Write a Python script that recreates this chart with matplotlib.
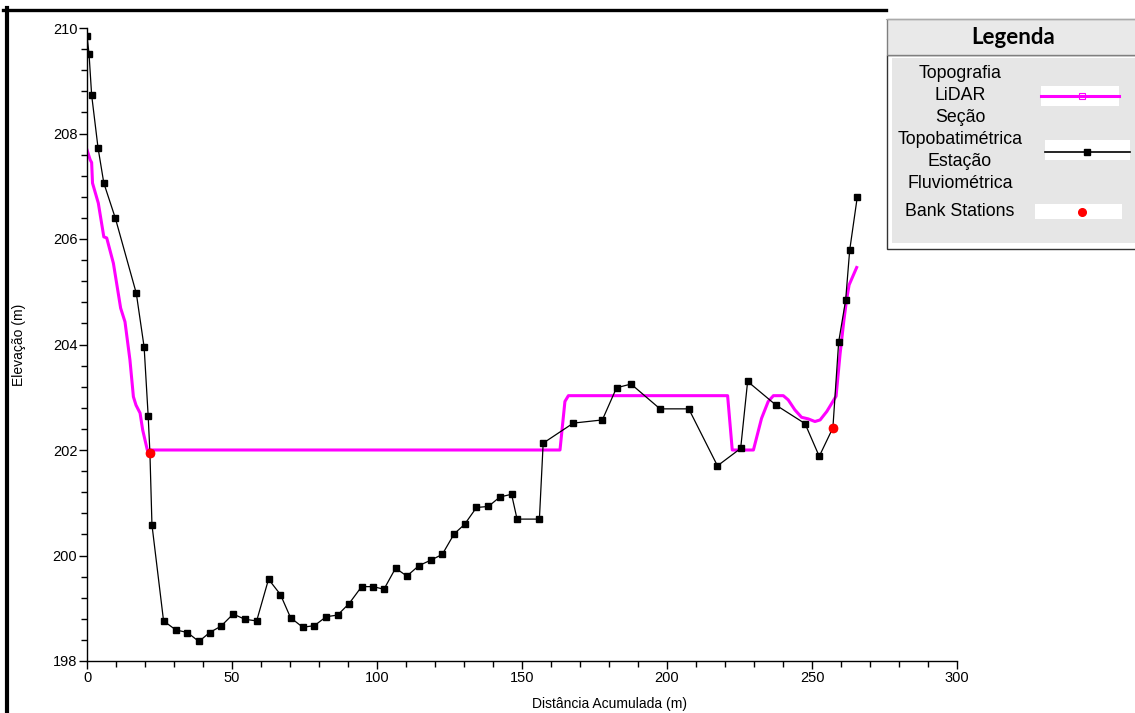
import matplotlib

matplotlib.use("Agg")
import matplotlib.pyplot as plt
from matplotlib.lines import Line2D
from matplotlib.patches import Rectangle
from matplotlib.ticker import MultipleLocator

plt.rcParams["font.family"] = ["Liberation Sans", "DejaVu Sans"]

# surveyed cross-section (distance m, elevation m)
secao_x = [0.0, 0.7, 1.6, 3.8, 5.8, 9.8, 17.0, 19.7, 21.1, 21.7, 22.4, 26.4,
           30.6, 34.6, 38.6, 42.3, 46.2, 50.4, 54.5, 58.5, 62.6, 66.7, 70.2,
           74.4, 78.4, 82.5, 86.4, 90.4, 94.7, 98.7, 102.4, 106.4, 110.3,
           114.5, 118.5, 122.5, 126.6, 130.2, 134.3, 138.4, 142.4, 146.4,
           148.3, 156.0, 157.3, 167.7, 177.7, 182.6, 187.6, 197.6, 207.5,
           217.4, 225.4, 227.8, 237.6, 247.6, 252.5, 257.2, 259.2, 261.6,
           263.0, 265.6]
secao_z = [209.85, 209.51, 208.73, 207.73, 207.06, 206.39, 204.97, 203.95,
           202.64, 201.94, 200.58, 198.76, 198.59, 198.54, 198.37, 198.54,
           198.66, 198.89, 198.79, 198.76, 199.55, 199.26, 198.82, 198.64,
           198.67, 198.84, 198.87, 199.09, 199.41, 199.41, 199.36, 199.76,
           199.61, 199.81, 199.91, 200.02, 200.41, 200.59, 200.91, 200.93,
           201.11, 201.16, 200.69, 200.69, 202.13, 202.51, 202.57, 203.18,
           203.25, 202.78, 202.78, 201.70, 202.03, 203.30, 202.85, 202.50,
           201.88, 202.42, 204.05, 204.84, 205.79, 206.79]

# LiDAR terrain profile
lidar_x = [0.0, 1.1, 1.6, 1.9, 3.9, 5.8, 6.8, 9.1, 11.6, 13.1, 14.8, 16.0,
           16.9, 18.3, 19.2, 20.8, 163.1, 164.8, 166.0, 220.9, 222.5, 229.8,
           232.6, 234.9, 236.7, 240.1, 241.8, 244.1, 246.4, 248.7, 251.0,
           252.8, 255.1, 258.3, 259.7, 261.0, 261.9, 262.8, 265.4]
lidar_z = [207.69, 207.50, 207.45, 207.06, 206.68, 206.04, 206.02, 205.54,
           204.69, 204.43, 203.71, 203.01, 202.85, 202.70, 202.38, 202.00,
           202.00, 202.92, 203.03, 203.03, 202.00, 202.00, 202.60, 202.92,
           203.03, 203.03, 202.95, 202.76, 202.62, 202.59, 202.54, 202.57,
           202.73, 203.02, 203.83, 204.46, 204.84, 205.13, 205.46]

# bank stations
bank_x = [21.7, 257.2]
bank_z = [201.94, 202.42]

legend_labels = ["Topografia\nLiDAR", "Seção\nTopobatimétrica",
                 "Estação\nFluviométrica", "Bank Stations"]

W, H = 1135, 713
fig = plt.figure(figsize=(W / 100, H / 100), dpi=100)
ax = fig.add_axes([87 / W, 1 - 661 / H, 870 / W, 633 / H])

ax.plot(lidar_x, lidar_z, color="#ff00ff", lw=2.2, zorder=2)
ax.plot(secao_x, secao_z, color="black", lw=0.9, marker="s", ms=4.8,
        zorder=3)
ax.plot(bank_x, bank_z, ls="none", marker="o", color="#ff0000", ms=6,
        zorder=4)

ax.set_xlim(0, 300)
ax.set_ylim(198, 210)
ax.xaxis.set_major_locator(MultipleLocator(50))
ax.xaxis.set_minor_locator(MultipleLocator(10))
ax.yaxis.set_major_locator(MultipleLocator(2))
ax.yaxis.set_minor_locator(MultipleLocator(0.4))
ax.tick_params(which="both", direction="out", width=1, labelsize=10.5, pad=1)
ax.tick_params(which="major", length=6)
ax.tick_params(which="minor", length=4)
ax.spines["top"].set_visible(False)
ax.spines["right"].set_visible(False)
for s in ("left", "bottom"):
    ax.spines[s].set_linewidth(1)
ax.set_xlabel("Distância Acumulada (m)", fontsize=10)
ax.set_ylabel("Elevação (m)", fontsize=10)
ax.xaxis.set_label_coords(523 / 870, -(697 - 661) / 633)
ax.yaxis.set_label_coords(-(87 - 26) / 870, 0.5)

# window frame along the top and left edge
fig.add_artist(Line2D([3 / W, 886 / W], [1 - 9.5 / H] * 2, color="black",
                      lw=2.4, transform=fig.transFigure))
fig.add_artist(Line2D([7 / W, 7 / W], [0, 1 - 8 / H], color="black",
                      lw=3, transform=fig.transFigure))
fig.add_artist(Line2D([886 / W, 1], [1 - 19 / H] * 2, color="#aaaaaa",
                      lw=0.8, transform=fig.transFigure))

# legend panel, laid out in pixel units
lg = fig.add_axes([880 / W, 1 - 260 / H, 255 / W, 260 / H])
lg.set_xlim(880, 1135)
lg.set_ylim(260, 0)
lg.axis("off")
lg.add_patch(Rectangle((887, 55), 260, 194, facecolor="white",
                       edgecolor="#333333", lw=1))
lg.add_patch(Rectangle((892, 58), 260, 185, facecolor="#e6e6e6",
                       edgecolor="none"))
lg.add_patch(Rectangle((887, 19), 260, 36, facecolor="#e9e9e9",
                       edgecolor="#7f7f7f", lw=1))
lg.text(1013, 38, "Legenda", ha="center", va="center", fontsize=16,
        fontweight="bold", family=["Lato", "DejaVu Sans"])

# each label line on its own row, 22 px apart
text_y = [73, 117, 162, 212]
for lab, ty in zip(legend_labels, text_y):
    for i, line in enumerate(lab.split("\n")):
        lg.text(960, ty + 22 * i, line, ha="center", va="center",
                fontsize=12.8)

lg.add_patch(Rectangle((1041, 86), 78, 20, facecolor="white",
                       edgecolor="none"))
lg.plot([1041, 1119], [96, 96], color="#ff00ff", lw=2.2)
lg.plot([1082], [96], marker="s", ms=4, mfc="none", mec="#ff00ff", mew=0.8)
lg.add_patch(Rectangle((1045, 140), 85, 20, facecolor="white",
                       edgecolor="none"))
lg.plot([1045, 1130], [152, 152], color="black", lw=1.2)
lg.plot([1087], [152], marker="s", ms=4, color="black")
lg.add_patch(Rectangle((1035, 204), 87, 15, facecolor="white",
                       edgecolor="none"))
lg.plot([1082], [212], marker="o", ms=5.5, color="#ff0000")

fig.savefig("out.png", dpi=100)
